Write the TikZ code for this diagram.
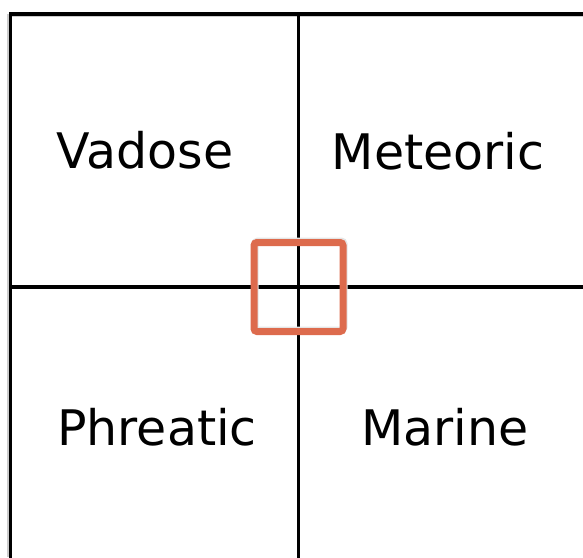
\documentclass[tikz,border=0pt]{standalone}
\usepackage{fontspec}
\setmainfont{DejaVu Sans}
\usepackage{tikz}
\usetikzlibrary{positioning}
\definecolor{zoneorange}{RGB}{221,107,77}

\begin{document}
\begin{tikzpicture}[x=1pt, y=-1pt,
    gridline/.style={draw=black, line width=3.8pt, line cap=rect},
    shadowline/.style={draw=black!20, line width=3.8pt},
    zonelabel/.style={anchor=base, inner sep=0pt, font=\fontsize{49}{49}\selectfont},
    focus/.style={draw=zoneorange, line width=7pt, rounded corners=3pt, minimum size=89pt, inner sep=0pt}
  ]
  \useasboundingbox (0,0) rectangle (583,557);

  % corners of the grid
  \coordinate (tl) at (10.5,14);
  \coordinate (tm) at (298.5,14);
  \coordinate (tr) at (583,14);
  \coordinate (ml) at (10.5,287);
  \coordinate (mr) at (583,287);
  \coordinate (bl) at (10.5,557);
  \coordinate (bm) at (298.5,557);
  \coordinate (mm) at (298.5,287);

  % soft shadows
  \draw[shadowline] ([yshift=-1.5pt]tl) -- ([yshift=-1.5pt]tr);
  \draw[shadowline] ([xshift=-1.5pt]tl) -- ([xshift=-1.5pt]bl);

  % grid
  \draw[gridline] (tl) -- (tr);
  \draw[gridline] (tl) -- (bl);
  \draw[gridline] (tm) -- (bm);
  \draw[gridline] (ml) -- (mr);

  % labels
  \node[zonelabel] (vadose)   at (145,168) {Vadose};
  \node[zonelabel] (meteoric) at (438,169) {Meteoric};
  \node[zonelabel] (phreatic) at (157,445) {Phreatic};
  \node[zonelabel] (marine)   at (445,445) {Marine};

  % highlighted crossing
  \node[focus, draw=black!10] at ([xshift=1pt,yshift=1.5pt]mm) {};
  \node[focus] (cross) at (mm) {};
\end{tikzpicture}
\end{document}
